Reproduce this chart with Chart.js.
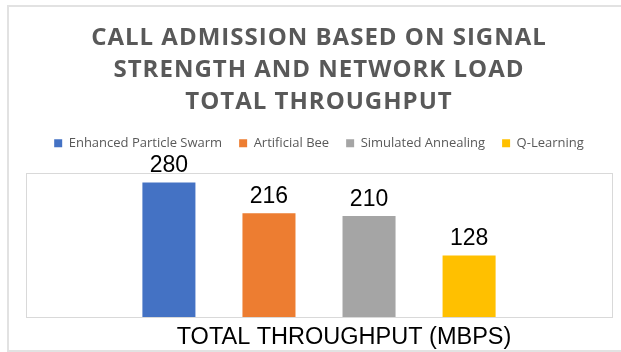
<!DOCTYPE html>
<html>
<head>
<meta charset="utf-8">
<script src="https://cdn.jsdelivr.net/npm/chart.js@4/dist/chart.umd.min.js"></script>
<style>
  html, body { margin: 0; padding: 0; background: #ffffff; }
  #wrap { position: relative; width: 621px; height: 352px; }
</style>
</head>
<body>
<div id="wrap"><canvas id="c" width="621" height="352"></canvas></div>
<script>
// ---- data ----
const titleLines = ["CALL ADMISSION BASED ON SIGNAL", "STRENGTH AND NETWORK LOAD", "TOTAL THROUGHPUT"];
const categories = ["TOTAL THROUGHPUT (MBPS)"];
const seriesNames = ["Enhanced Particle Swarm", "Artificial Bee", "Simulated Annealing", "Q-Learning"];
const throughput = [280, 216, 210, 128];
const seriesColors = ["#4472C4", "#ED7D31", "#A5A5A5", "#FFC000"];
const yMax = 300;

const datasets = seriesNames.map((name, i) => ({
  label: name,
  data: [throughput[i]],
  backgroundColor: seriesColors[i],
  borderWidth: 0,
  categoryPercentage: 0.683,
  barPercentage: 0.53
}));

const framePlugin = {
  id: 'frame',
  afterInit(chart) {
    const lg = chart.legend;
    if (lg && !lg._wrappedFit) {
      const origFit = lg.fit.bind(lg);
      lg.fit = function () { origFit(); this.height += 13; };
      lg._wrappedFit = true;
    }
  },
  afterLayout(chart) {
    const tb = chart.titleBlock;
    if (tb && !tb._wrapped) {
      const orig = tb.draw.bind(tb);
      tb.draw = function () {
        const ctx = this.ctx;
        ctx.save();
        ctx.letterSpacing = '1px';
        orig();
        ctx.restore();
      };
      tb._wrapped = true;
    }
  },
  beforeDraw(chart) {
    const ctx = chart.ctx;
    const a = chart.chartArea;
    ctx.save();
    ctx.strokeStyle = '#e2e2e2';
    ctx.lineWidth = 2;
    ctx.strokeRect(8, 6, 700, 345);
    ctx.strokeStyle = '#d9d9d9';
    ctx.lineWidth = 1;
    ctx.strokeRect(Math.round(a.left) + 0.5, Math.round(a.top) + 0.5, Math.round(a.right - a.left), Math.round(a.bottom - a.top));
    ctx.restore();
  },
  afterDatasetsDraw(chart) {
    const ctx = chart.ctx;
    ctx.save();
    ctx.font = '23px "Liberation Sans", Arial, sans-serif';
    ctx.fillStyle = '#000000';
    ctx.textAlign = 'center';
    ctx.textBaseline = 'alphabetic';
    chart.data.datasets.forEach((ds, i) => {
      chart.getDatasetMeta(i).data.forEach((bar, j) => {
        ctx.fillText(String(ds.data[j]), bar.x, bar.y - 10);
      });
    });
    ctx.restore();
  }
};

new Chart(document.getElementById('c'), {
  type: 'bar',
  data: { labels: categories, datasets: datasets },
  options: {
    responsive: false,
    animation: false,
    layout: { padding: { left: 26, right: 9, top: 22, bottom: 0 } },
    plugins: {
      title: {
        display: true,
        text: titleLines,
        color: '#595959',
        font: { family: '"Open Sans", sans-serif', size: 24, weight: 'bold', lineHeight: 1.33 },
        padding: { top: 0, bottom: 2 }
      },
      legend: {
        display: true,
        position: 'top',
        labels: {
          color: '#595959',
          font: { family: '"Open Sans", sans-serif', size: 13 },
          boxWidth: 8,
          boxHeight: 8,
          padding: 17
        }
      },
      tooltip: { enabled: false }
    },
    scales: {
      x: {
        grid: { display: false, drawTicks: false },
        border: { display: false },
        afterFit(scale) { scale.height = 35; },
        ticks: {
          color: '#000000',
          font: { family: '"Liberation Sans", Arial, sans-serif', size: 23.5 },
          padding: 6,
          labelOffset: 25
        }
      },
      y: {
        display: false,
        min: 0,
        max: yMax
      }
    }
  },
  plugins: [framePlugin]
});
</script>
</body>
</html>
